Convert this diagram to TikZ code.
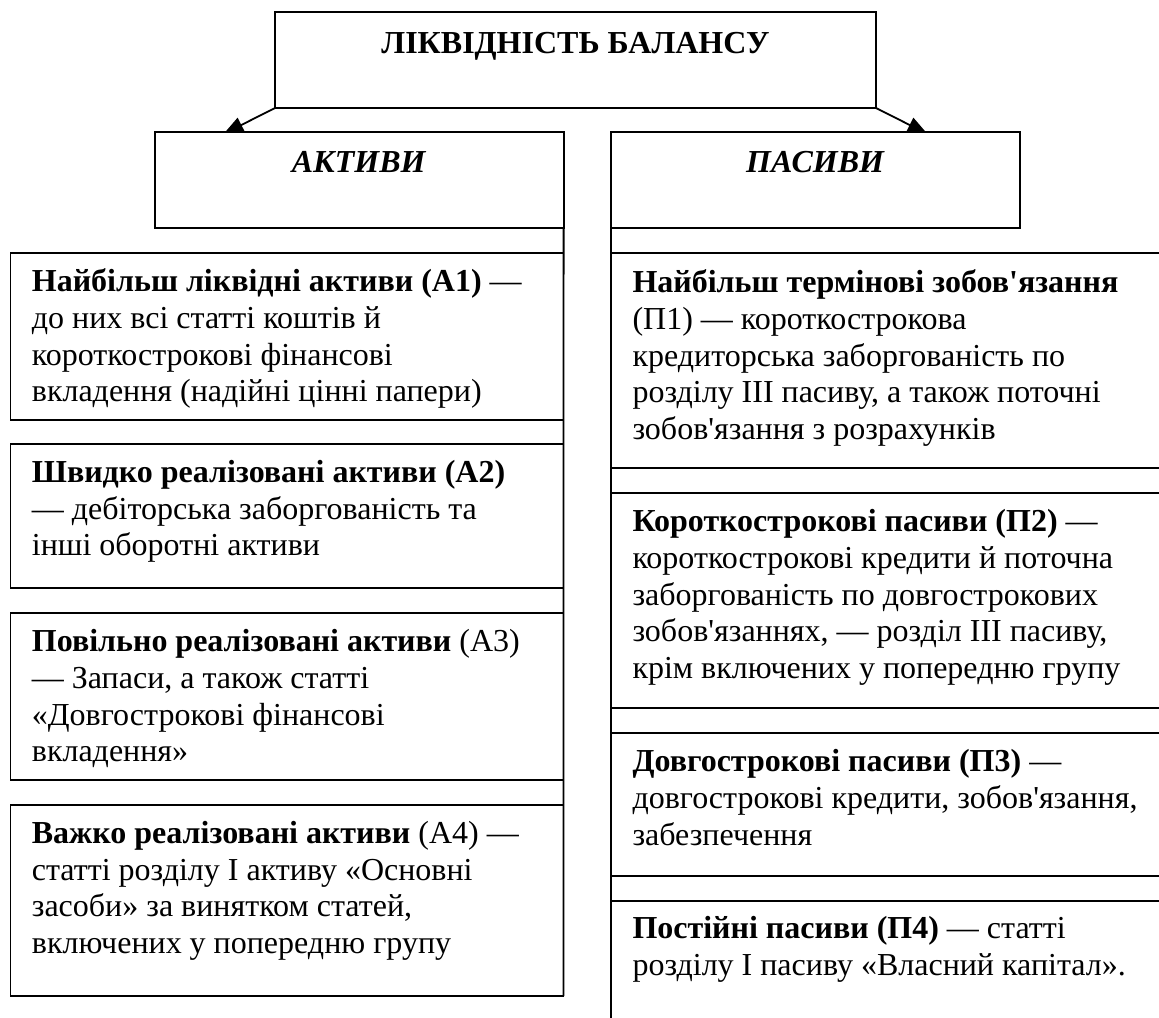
\documentclass[tikz,border=0pt]{standalone}
\usepackage{fontspec}
\setmainfont{Liberation Serif}[Ligatures=TeXOff]
\usetikzlibrary{arrows.meta}
\begin{document}
\begin{tikzpicture}[x=0.5pt,y=-0.5pt,
  box/.style={draw, line width=0.9pt, fill=white, inner xsep=10.75pt, inner ysep=0pt,
    outer sep=0pt, anchor=north west, font=\fontsize{16pt}{18.35pt}\selectfont},
  conn/.style={line width=0.9pt},
  arr/.style={conn, -{Triangle[length=10pt,width=8pt]}}]
\useasboundingbox (0,0) rectangle (1159,1017);
\clip (0,0) rectangle (1159,1017);
\fill[white] (0,0) rectangle (1159,1017);

\node[box, inner xsep=0pt] (top) at (275,12)
  {\parbox[c][48pt][t]{300.5pt}{\centering\rule{0pt}{20.5pt}\textbf{ЛІКВІДНІСТЬ БАЛАНСУ}}};

\coordinate (tipL) at (223.5,134);
\coordinate (tipR) at (927.5,134);
\draw[arr] (top.south west) -- (tipL);
\draw[arr] (top.south east) -- (tipR);

\node[box, inner xsep=0pt] (akt) at (154.6,131.7)
  {\parbox[c][48pt][t]{204.5pt}{\centering\rule{0pt}{20.5pt}\textbf{\textit{АКТИВИ}}}};
\node[box, inner xsep=0pt] (pas) at (611,131.7)
  {\parbox[c][48pt][t]{204.5pt}{\centering\rule{0pt}{20.5pt}\textbf{\textit{ПАСИВИ}}}};

% assets
\node[box] (A1) at (10.4,252.7)
  {\parbox[c][83.6pt][t]{255pt}{\raggedright\rule{0pt}{19.5pt}\textbf{Найбільш ліквідні активи (А1)} —\\до них всі статті коштів й\\короткострокові фінансові\\вкладення (надійні цінні папери)}};
\node[box] (A2) at (10.4,444.3)
  {\parbox[c][72pt][t]{255pt}{\raggedright\rule{0pt}{19pt}\textbf{Швидко реалізовані активи (А2)}\\— дебіторська заборгованість та\\інші оборотні активи}};
\node[box] (A3) at (10.4,612.7)
  {\parbox[c][83.6pt][t]{255pt}{\raggedright\rule{0pt}{19.5pt}\textbf{Повільно реалізовані активи} (А3)\\— Запаси, а також статті\\«Довгострокові фінансові\\вкладення»}};
\node[box] (A4) at (10.4,805)
  {\parbox[c][95.5pt][t]{255pt}{\raggedright\rule{0pt}{19.2pt}\textbf{Важко реалізовані активи} (А4) —\\статті розділу І активу «Основні\\засоби» за винятком статей,\\включених у попередню групу}};

% liabilities
\node[box] (P1) at (611,252.7)
  {\parbox[c][107.8pt][t]{275pt}{\raggedright\rule{0pt}{20pt}\textbf{Найбільш термінові зобов'язання}\\(П1) — короткострокова\\кредиторська заборгованість по\\розділу ІІІ пасиву, а також поточні\\зобов'язання з розрахунків}};
\node[box] (P2) at (611,492.7)
  {\parbox[c][107.8pt][t]{275pt}{\raggedright\rule{0pt}{19.5pt}\textbf{Короткострокові пасиви (П2)} —\\короткострокові кредити й поточна\\заборгованість по довгострокових\\зобов'язаннях, — розділ ІІІ пасиву,\\крім включених у попередню групу}};
\node[box] (P3) at (611,732.7)
  {\parbox[c][71.7pt][t]{275pt}{\raggedright\rule{0pt}{19.5pt}\textbf{Довгострокові пасиви (П3)} —\\довгострокові кредити, зобов'язання,\\забезпечення}};
\node[box] (P4) at (611,900.7)
  {\parbox[c][65pt][t]{275pt}{\raggedright\rule{0pt}{19pt}\textbf{Постійні пасиви (П4)} — статті\\розділу І пасиву «Власний капітал».}};

\draw[conn] (akt.south east) -- (A4.south east);
\draw[conn] (pas.south west) -- (P4.south west);
\end{tikzpicture}
\end{document}
